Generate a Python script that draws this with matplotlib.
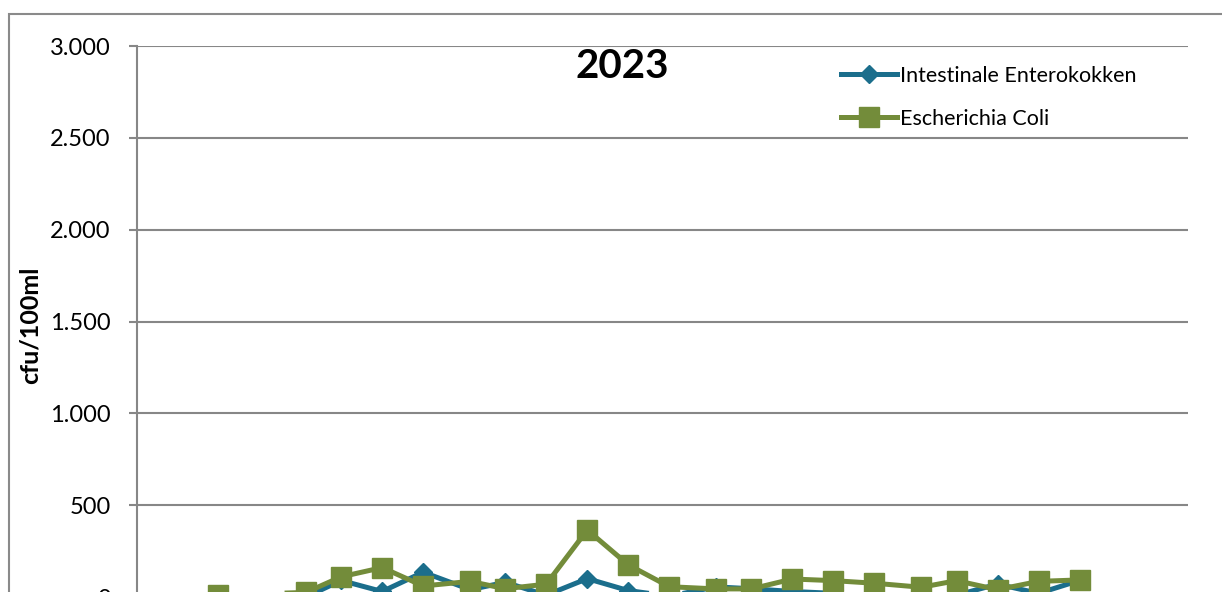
import matplotlib
matplotlib.use('Agg')
import matplotlib.pyplot as plt
import matplotlib.dates as mdates
from matplotlib.patches import Rectangle
from matplotlib.ticker import FuncFormatter
import pandas as pd

plt.rcParams['font.family'] = ['Lato', 'DejaVu Sans']

# sampling dates of the bathing season
dates = ['2023-05-01', '2023-05-16', '2023-05-22', '2023-05-29', '2023-06-05',
         '2023-06-13', '2023-06-19', '2023-06-26', '2023-07-03', '2023-07-10',
         '2023-07-17', '2023-07-25', '2023-07-31', '2023-08-07', '2023-08-14',
         '2023-08-21', '2023-08-29', '2023-09-04', '2023-09-11', '2023-09-18',
         '2023-09-25']
enterokokken = [0, 0, 90, 30, 135, 40, 80, 10, 100, 35,
                5, 55, 45, 30, 20, 0, 20, 10, 70, 20, 90]
ecoli = [10, 25, 110, 160, 60, 85, 45, 70, 365, 175,
         56, 44, 44, 98, 89, 75, 53, 89, 40, 85, 93]
y_ticks = [0, 500, 1000, 1500, 2000, 2500, 3000]

x = pd.to_datetime(dates)

fig = plt.figure(figsize=(12.22, 5.92), dpi=100)

# outer chart border (cropped at right and bottom)
fig.patches.append(Rectangle((9 / 1222, -0.2), 1.5, 1.2 - 14 / 592,
                             transform=fig.transFigure, fill=False,
                             edgecolor='#8a8a8a', linewidth=1.5))

ax = fig.add_axes([137 / 1222, 1 - 597 / 592, 1051 / 1222, 551 / 592])

ax.plot(x, enterokokken, color='#1B6E8C', linewidth=3.6, marker='D',
        markersize=9, label='Intestinale Enterokokken', zorder=3)
ax.plot(x, ecoli, color='#738C3A', linewidth=3.6, marker='s',
        markersize=14, label='Escherichia Coli', zorder=4)

ax.set_ylim(0, 3000)
ax.set_yticks(y_ticks)
ax.yaxis.set_major_formatter(FuncFormatter(lambda v, p: f'{int(v):,}'.replace(',', '.')))
ax.set_xlim(pd.Timestamp('2023-04-17 04:00'), pd.Timestamp('2023-10-13 12:00'))
ax.xaxis.set_major_locator(mdates.MonthLocator())
ax.tick_params(axis='x', length=0, labelbottom=False)

ax.grid(axis='y', color='#878787', linewidth=1.5)
ax.set_axisbelow(True)
for s in ['top', 'right', 'bottom']:
    ax.spines[s].set_visible(False)
ax.spines['left'].set_color('#878787')
ax.spines['left'].set_linewidth(1.5)
ax.tick_params(axis='y', length=6, width=1.5, color='#878787', pad=13,
               labelsize=17)

ax.set_ylabel('cfu/100ml', fontsize=18, fontweight='bold')
ax.yaxis.set_label_coords(-0.0904, 0.494)

fig.text(622 / 1222, 1 - 66 / 592, '2023', fontsize=29, fontweight='bold',
         ha='center', va='center')

ax.legend(loc='upper left', bbox_to_anchor=(841 / 1222, 1 - 66 / 592),
          bbox_transform=fig.transFigure, frameon=False, fontsize=15.5,
          handlelength=2.6, handletextpad=0.15, labelspacing=1.05,
          borderpad=0, borderaxespad=0)

fig.savefig('out.png', dpi=100)
